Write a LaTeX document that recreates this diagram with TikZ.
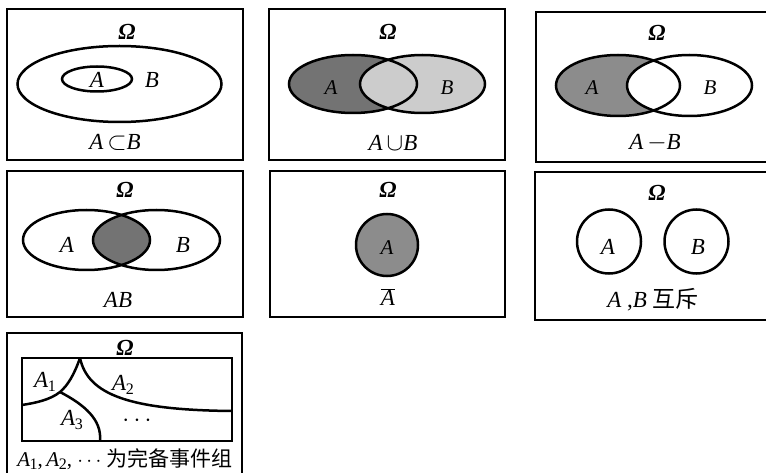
\documentclass[tikz,border=0pt]{standalone}
\usepackage{fontspec}
\setmainfont{Liberation Serif}
\newfontfamily\cjk{Noto Sans CJK SC}
\definecolor{fillDark}{gray}{0.45}
\definecolor{fillMid}{gray}{0.55}
\definecolor{fillLight}{gray}{0.80}
\newcommand{\Om}{\textbf{\textit{Ω}}}
\newcommand{\Asub}[1]{\textit{A}\kern-0.5pt\raisebox{-0.35ex}{\fontsize{16}{16}\selectfont #1}}
\begin{document}
\begin{tikzpicture}[x=1pt,y=-1pt,
  frame/.style={line width=1.7pt},
  setline/.style={line width=2.5pt},
  lbl/.style={font=\fontsize{23}{26}\selectfont, inner sep=0pt},
  small/.style={font=\fontsize{21}{24}\selectfont, inner sep=0pt}]
\useasboundingbox (0,0) rectangle (766,473);
\fill[white] (0,0) rectangle (766,473);

% ---------- Panel 1: A subset B
\draw[frame] (7,9) rectangle (243,160);
\draw[setline] (119.5,84) ellipse [x radius=102, y radius=38];
\draw[setline] (97,79) ellipse [x radius=35, y radius=12.5];
\node[lbl] (om1) at (127,32) {\Om};
\node[lbl] (a1) at (97,80) {\textit{A}};
\node[lbl] (b1) at (152,80) {\textit{B}};
\node[lbl] (c1) at (115,142) {\textit{A}\,$\subset$\textit{B}};

% ---------- Panel 2: A cup B
\draw[frame] (269,9) rectangle (505,160);
\fill[fillDark] (353,84) ellipse [x radius=64, y radius=29];
\fill[fillLight] (422.5,84) ellipse [x radius=62.5, y radius=29];
\draw[setline] (353,84) ellipse [x radius=64, y radius=29];
\draw[setline] (422.5,84) ellipse [x radius=62.5, y radius=29];
\node[lbl] (om2) at (388,32) {\Om};
\node[small] (a2) at (331,88) {\textit{A}};
\node[small] (b2) at (447,88) {\textit{B}};
\node[lbl] (c2) at (393,143) {\textit{A}\,$\cup$\textit{B}};

% ---------- Panel 3: A - B
\draw[frame] (536,12) rectangle (790,162);
\fill[fillMid] (618,85.5) ellipse [x radius=62, y radius=30.5];
\fill[white] (689.5,85.5) ellipse [x radius=62.5, y radius=30.5];
\draw[setline] (618,85.5) ellipse [x radius=62, y radius=30.5];
\draw[setline] (689.5,85.5) ellipse [x radius=62.5, y radius=30.5];
\node[lbl] (om3) at (657,33) {\Om};
\node[small] (a3) at (592,88) {\textit{A}};
\node[small] (b3) at (710,88) {\textit{B}};
\node[lbl] (c3) at (655,143) {\textit{A}\,$-$\textit{B}};

% ---------- Panel 4: AB
\draw[frame] (7,171) rectangle (243,317);
\begin{scope}
  \clip (86.5,240) ellipse [x radius=63.5, y radius=30];
  \fill[fillDark] (156.5,240) ellipse [x radius=63.5, y radius=30];
\end{scope}
\draw[setline] (86.5,240) ellipse [x radius=63.5, y radius=30];
\draw[setline] (156.5,240) ellipse [x radius=63.5, y radius=30];
\node[lbl] (om4) at (125,190) {\Om};
\node[lbl] (a4) at (67,245) {\textit{A}};
\node[lbl] (b4) at (183,245) {\textit{B}};
\node[lbl] (c4) at (118,300) {\textit{AB}};

% ---------- Panel 5: complement
\draw[frame] (270,171) rectangle (505,317);
\fill[fillMid] (387,245) circle [radius=31];
\draw[setline] (387,245) circle [radius=31];
\node[lbl] (om5) at (388,190) {\Om};
\node[small] (a5) at (387,248) {\textit{A}};
\node[lbl] (c5) at (388,297) {$\overline{\mbox{\textit{A}}}$};

% ---------- Panel 6: mutually exclusive
\draw[frame] (535,172) rectangle (790,320);
\draw[setline] (609,241.5) circle [radius=32];
\draw[setline] (696.5,241.5) circle [radius=32];
\node[lbl] (om6) at (657,193) {\Om};
\node[lbl] (a6) at (608,247) {\textit{A}};
\node[lbl] (b6) at (698,247) {\textit{B}};
\node[lbl] (c6) at (653,300) {\textit{A} ,\textit{B} {\cjk 互斥}};

% ---------- Panel 7: complete event group
\draw[frame] (7,490) -- (7,333) -- (242,333) -- (242,490);
\draw[setline] (22,358) rectangle (232,441);
\coordinate (pk) at (80,358);
\coordinate (jn) at (60,392);
\coordinate (lf) at (22,405);
\coordinate (rt) at (232,411);
\coordinate (bt) at (100,441);
\draw[setline] (pk) .. controls (74,375) and (68,385) .. (jn)
                    .. controls (50,400) and (35,403) .. (lf);
\draw[setline] (pk) .. controls (88,395) and (130,410) .. (rt);
\draw[setline] (jn) .. controls (85,405) and (102,420) .. (bt);
\node[lbl] (om7) at (125,348) {\Om};
\node[lbl] (s1) at (45,382) {\Asub{1}};
\node[lbl] (s2) at (123,385) {\Asub{2}};
\node[lbl] (s3) at (72,420) {\Asub{3}};
\node[lbl] (dots) at (137,421) {$\cdots$};
\node[font=\fontsize{21}{24}\selectfont, inner sep=0pt] (c7) at (125,459) {\Asub{1},\,\Asub{2}, $\cdots$ {\cjk 为完备事件组}};
\end{tikzpicture}
\end{document}
